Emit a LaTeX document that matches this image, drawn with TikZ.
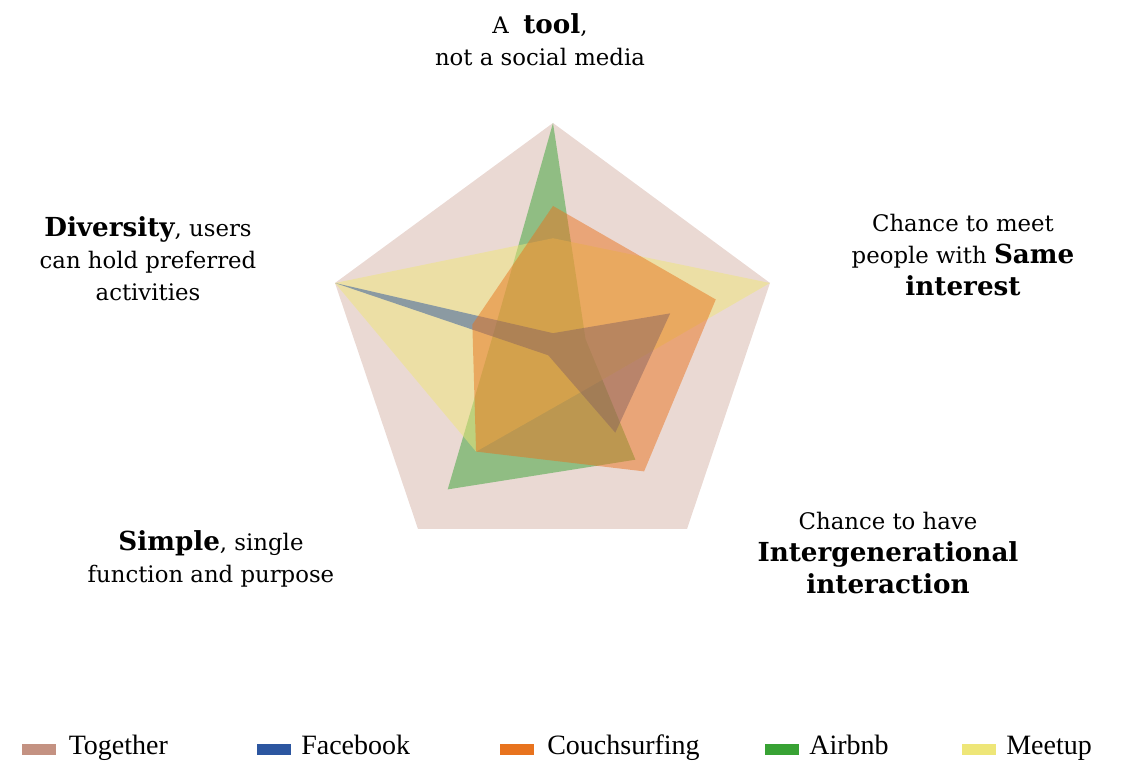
\documentclass[tikz,border=0pt]{standalone}
\usepackage{fontspec}
\setmainfont{DejaVu Serif}
\newfontfamily\legendfont{Liberation Serif}
\usetikzlibrary{calc,positioning}

\definecolor{together}{RGB}{196,146,130}
\definecolor{facebook}{RGB}{44,86,160}
\definecolor{couchsurfing}{RGB}{232,115,30}
\definecolor{airbnb}{RGB}{56,162,52}
\definecolor{meetup}{RGB}{238,230,120}

% one polygon of the radar, values on the five axes
\newcommand{\radar}[5]{($(c)!#1!(a1)$) -- ($(c)!#2!(a2)$) -- ($(c)!#3!(a3)$) -- ($(c)!#4!(a4)$) -- ($(c)!#5!(a5)$) -- cycle}
\newcommand{\hl}[1]{{\fontsize{13.1}{16}\selectfont\bfseries #1}}

\begin{document}
\begin{tikzpicture}[x=0.5pt,y=0.5pt,
  label/.style={align=center,font=\fontsize{11.4}{16}\selectfont},
  swatch/.style={minimum width=17pt,minimum height=5.5pt,inner sep=0pt},
  legtext/.style={font=\legendfont\fontsize{14}{17}\selectfont,inner sep=0pt,text height=0.68em,text depth=0.22em}]
\useasboundingbox (0,0) rectangle (1126,765);

% Axes
\coordinate (c) at (553,416);
\coordinate (a1) at (553,642);
\coordinate (a2) at (770,482);
\coordinate (a3) at (687,236);
\coordinate (a4) at (418,236);
\coordinate (a5) at (335,482);

% Data
\fill[together,fill opacity=0.35] (a1) -- (a2) -- (a3) -- (a4) -- (a5) -- cycle;
\fill[airbnb,fill opacity=0.5] \radar{1}{0.15}{0.615}{0.78}{0.27};
\fill[meetup,fill opacity=0.5] \radar{0.49}{1}{0.23}{0.57}{1};
\fill[facebook,fill opacity=0.5] \radar{0.07}{0.54}{0.465}{0.035}{1};
\fill[couchsurfing,fill opacity=0.5] \radar{0.633}{0.75}{0.68}{0.57}{0.37};

% Labels
\node[label] (tool) at (540,725) {A\ \ \hl{tool},\\not a social media};
\node[label] (diversity) at (148,506) {\hl{Diversity}, users\\can hold preferred\\activities};
\node[label] (sameint) at (963,510) {Chance to meet\\people with \hl{Same}\\\hl{interest}};
\node[label] (intergen) at (888,212) {Chance to have\\\hl{Intergenerational}\\\hl{interaction}};
\node[label] (simple) at (211,206) {\hl{Simple}, single\\function and purpose};

% Legend
\node[swatch,fill=together] (sw-together) at (39,15.5) {};
\node[legtext,right=6pt of sw-together] (lbl-together) {Together};
\node[swatch,fill=facebook] (sw-facebook) at (273.5,15.5) {};
\node[legtext,right=5pt of sw-facebook] (lbl-facebook) {Facebook};
\node[swatch,fill=couchsurfing] (sw-couchsurfing) at (516.5,15.5) {};
\node[legtext,right=6.5pt of sw-couchsurfing] (lbl-couchsurfing) {Couchsurfing};
\node[swatch,fill=airbnb] (sw-airbnb) at (781.5,15.5) {};
\node[legtext,right=5pt of sw-airbnb] (lbl-airbnb) {Airbnb};
\node[swatch,fill=meetup] (sw-meetup) at (978.5,15.5) {};
\node[legtext,right=5pt of sw-meetup] (lbl-meetup) {Meetup};
\end{tikzpicture}
\end{document}
